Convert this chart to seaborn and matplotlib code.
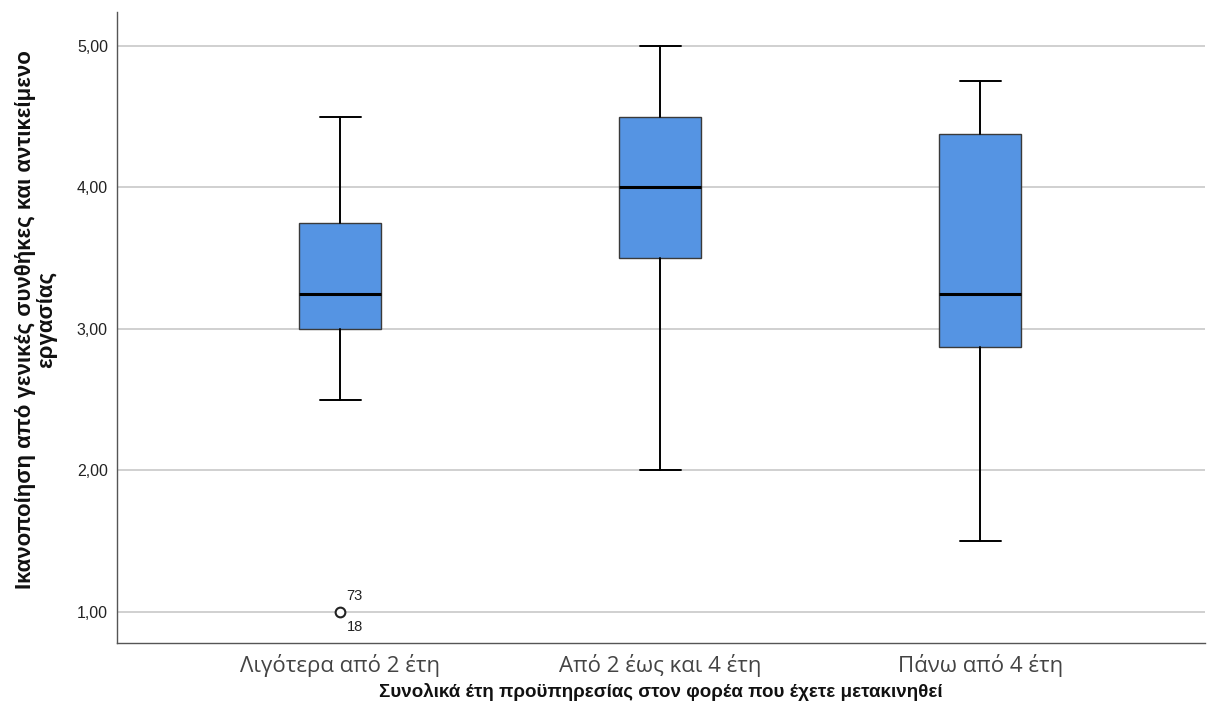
import seaborn as sns
import matplotlib.pyplot as plt

# Summary statistics
categories = ["Λιγότερα από 2 έτη", "Από 2 έως και 4 έτη", "Πάνω από 4 έτη"]
whisker_low = [2.5, 2.0, 1.5]
q1 = [3.0, 3.5, 2.875]
median = [3.25, 4.0, 3.25]
q3 = [3.75, 4.5, 4.375]
whisker_high = [4.5, 5.0, 4.75]
outliers = [[1.0], [], []]
outlier_ids = [["73", "18"], [], []]

y_ticks = [1, 2, 3, 4, 5]
y_tick_labels = ["1,00", "2,00", "3,00", "4,00", "5,00"]

sns.set_theme(style="white")
plt.rcParams['font.family'] = ['Liberation Sans', 'DejaVu Sans']

fig = plt.figure(figsize=(12.21, 7.26), dpi=100)
ax = fig.add_axes([0.0958, 0.1143, 0.8912, 0.8692])

stats = []
for i in range(len(categories)):
    stats.append({
        "whislo": whisker_low[i], "q1": q1[i], "med": median[i],
        "q3": q3[i], "whishi": whisker_high[i], "fliers": outliers[i],
    })

ax.bxp(stats, positions=range(len(categories)), widths=0.256, patch_artist=True,
       showfliers=True,
       boxprops=dict(facecolor="#5594E3", edgecolor="#3a3a3a", linewidth=1.0),
       medianprops=dict(color="black", linewidth=2.2),
       whiskerprops=dict(color="black", linewidth=1.4),
       capprops=dict(color="black", linewidth=1.4),
       capwidths=0.128,
       flierprops=dict(marker="o", markerfacecolor="white", markeredgecolor="#222222",
                       markersize=7, markeredgewidth=1.5))

# case numbers next to the outlier
for i, ids in enumerate(outlier_ids):
    if ids:
        y = outliers[i][0]
        ax.text(i + 0.02, y + 0.06, ids[0], fontsize=10.5, color="#222222", ha="left", va="bottom")
        ax.text(i + 0.02, y - 0.06, ids[1], fontsize=10.5, color="#222222", ha="left", va="top")

ax.set_xlim(-0.697, 2.703)
ax.set_ylim(0.78, 5.24)
ax.set_yticks(y_ticks)
ax.set_yticklabels(y_tick_labels, fontsize=11.5, color="#222222")
ax.set_xticks(range(len(categories)))
ax.set_xticklabels(categories, fontsize=16, color="#444444", family=["Open Sans", "DejaVu Sans"])
ax.yaxis.grid(True, color="#c8c8c8", linewidth=1.2)
ax.set_axisbelow(True)
ax.tick_params(axis="y", length=0, pad=6.5)
ax.tick_params(axis="x", length=0, pad=8)

sns.despine(ax=ax)
for side in ["left", "bottom"]:
    ax.spines[side].set_color("#555555")
    ax.spines[side].set_linewidth(1.0)

ax.set_ylabel("Ικανοποίηση από γενικές συνθήκες και αντικείμενο\nεργασίας",
              fontsize=16, fontweight="bold", color="#111111", linespacing=1.0)
ax.yaxis.set_label_coords(-0.055, 0.513)
ax.set_xlabel("Συνολικά έτη προϋπηρεσίας στον φορέα που έχετε μετακινηθεί",
              fontsize=13.5, fontweight="bold", color="#111111")
ax.xaxis.set_label_coords(0.5, -0.064)

fig.savefig("out.png", dpi=100)
